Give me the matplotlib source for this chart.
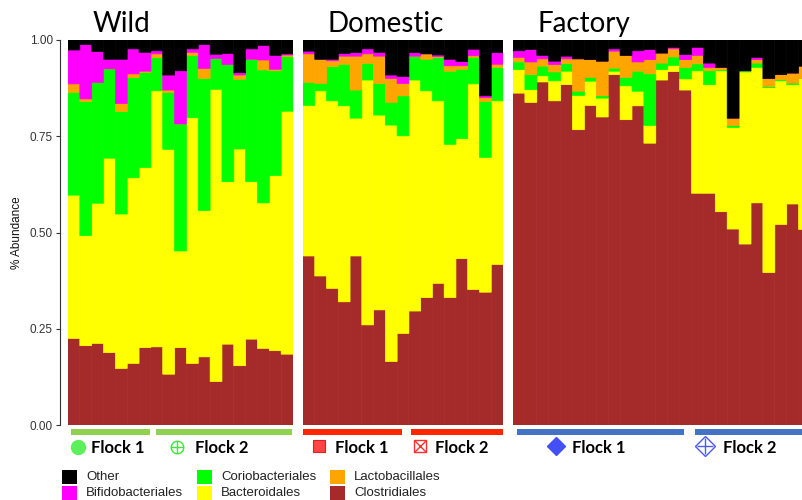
import matplotlib
matplotlib.use("Agg")
import matplotlib.pyplot as plt
from matplotlib.patches import Rectangle
import numpy as np

# ---------------- data (relative abundance per sample) ----------------
orders = ["Clostridiales", "Bacteroidales", "Coriobacteriales",
          "Lactobacillales", "Bifidobacteriales", "Other"]
order_colors = ["#A52A2A", "#FFFF00", "#00FF00", "#FFA500", "#FF00FF", "#000000"]

wild_clostridiales = [.225, .206, .212, .188, .147, .160, .201, .203, .132, .201,
                      .160, .177, .113, .210, .154, .223, .199, .193, .184]
wild_bacteroidales = [.372, .286, .364, .505, .401, .482, .468, .665, .584, .251,
                      .638, .380, .759, .422, .563, .409, .378, .455, .631]
wild_coriobacteriales = [.267, .348, .314, .232, .266, .260, .247, .086, .148, .330,
                         .162, .343, .080, .304, .181, .318, .345, .272, .142]
wild_lactobacillales = [.022, .007, 0, 0, .021, .010, .003, .010, .006, 0,
                        .008, .026, 0, 0, .011, 0, .026, .004, .004]
wild_bifidobacteriales = [.088, .141, .080, .025, .115, .065, .049, .008, .039, .138,
                          .009, .062, .011, .029, .006, .027, .038, .036, .003]
wild_other = [.026, .012, .030, .050, .050, .023, .032, .028, .091, .080,
              .023, .012, .037, .035, .085, .023, .014, .040, .036]

dom_clostridiales = [.439, .387, .355, .320, .439, .260, .299, .165, .238, .296,
                     .331, .368, .331, .432, .352, .345, .417]
dom_bacteroidales = [.391, .481, .487, .509, .358, .636, .506, .614, .513, .600,
                     .537, .474, .398, .312, .534, .350, .425]
dom_coriobacteriales = [.060, .019, .089, .108, .073, .043, .082, .059, .104, .061,
                        .082, .113, .190, .180, .069, .145, .087]
dom_lactobacillales = [.074, .063, .015, .021, .088, .025, .071, .062, .032, .001,
                       .014, .002, .014, .009, .004, .010, .008]
dom_bifidobacteriales = [.007, 0, .004, .007, .009, .013, .010, .009, .018, .009,
                         0, .004, .017, .011, .017, .005, .030]
dom_other = [.029, .050, .050, .035, .033, .023, .032, .091, .095, .033,
             .036, .039, .050, .056, .024, .145, .033]

fac_clostridiales = [.862, .838, .891, .842, .884, .767, .830, .800, .910, .793,
                     .829, .732, .896, .918, .870, .602, .602, .554, .509, .470,
                     .577, .396, .521, .574, .508]
fac_bacteroidales = [.061, .033, .016, .052, .035, .089, .063, .049, .009, .088,
                     .038, .046, .027, .016, .029, .318, .282, .366, .264, .447,
                     .352, .480, .373, .310, .392]
fac_coriobacteriales = [.020, .039, .025, .023, .020, .011, .010, .006, .008, .022,
                        .052, .134, .017, .022, .030, .018, .036, .003, .005, .003,
                        .011, .003, .003, .004, 0]
fac_lactobacillales = [.012, .033, .019, .019, .012, .084, .046, .090, .044, .057,
                       .024, .037, .026, .021, .020, .022, .009, .006, .019, 0,
                       .009, .021, .013, .026, .032]
fac_bifidobacteriales = [.017, .032, .009, .009, .007, 0, 0, 0, .006, 0,
                         .029, .026, 0, .004, .013, .021, .011, 0, 0, 0,
                         .006, 0, 0, 0, 0]
fac_other = [.028, .025, .040, .055, .042, .049, .051, .055, .023, .040,
             .028, .025, .034, .019, .038, .019, .060, .071, .203, .080,
             .045, .100, .090, .086, .068]

panel_titles = ["Wild", "Domestic", "Factory"]
y_ticks = [0.0, 0.25, 0.5, 0.75, 1.0]
y_tick_labels = ["0.00", "0.25", "0.50", "0.75", "1.00"]
flock_labels = ["Flock 1", "Flock 2"]

panels = [
    [wild_clostridiales, wild_bacteroidales, wild_coriobacteriales,
     wild_lactobacillales, wild_bifidobacteriales, wild_other],
    [dom_clostridiales, dom_bacteroidales, dom_coriobacteriales,
     dom_lactobacillales, dom_bifidobacteriales, dom_other],
    [fac_clostridiales, fac_bacteroidales, fac_coriobacteriales,
     fac_lactobacillales, fac_bifidobacteriales, fac_other],
]

# ---------------- layout (pixels) ----------------
W, H = 803, 500
fig = plt.figure(figsize=(W / 100, H / 100), dpi=100)

panel_px = [(68, 225), (303, 200), (513, 297.5)]  # left, width
top_px, bot_px = 40, 425

axes = []
for (left, width), data in zip(panel_px, panels):
    ax = fig.add_axes([left / W, 1 - bot_px / H, width / W, (bot_px - top_px) / H])
    n = len(data[0])
    x = np.arange(n)
    bottom = np.zeros(n)
    for vals, col in zip(data, order_colors):
        vals = np.array(vals, dtype=float)
        bars = ax.bar(x, vals, bottom=bottom, width=1.0, color=col,
                      linewidth=0.5, edgecolor=col)
        for b in bars:
            b.set_snap(False)
        bottom += vals
    ax.set_xlim(-0.5, n - 0.5)
    ax.set_ylim(0, 1)
    for s in ax.spines.values():
        s.set_visible(False)
    ax.set_xticks([])
    ax.set_yticks([])
    axes.append(ax)

ax0 = axes[0]
ax0.spines["left"].set_visible(True)
ax0.spines["left"].set_position(("outward", 6))
ax0.spines["left"].set_color("#333333")
ax0.spines["left"].set_linewidth(0.8)
ax0.set_yticks(y_ticks)
ax0.set_yticklabels(y_tick_labels, fontsize=8.5, color="#333333",
                    family="Liberation Sans")
ax0.tick_params(axis="y", length=3, width=0.8, color="#333333", pad=2)
ax0.set_ylabel("% Abundance", fontsize=8.5, family="Liberation Sans",
               color="#111111", labelpad=5)

# ---------------- overlay for titles, flock annotations and legend ----------------
ov = fig.add_axes([0, 0, 1, 1], zorder=10)
ov.set_xlim(0, W)
ov.set_ylim(H, 0)
ov.axis("off")
ov.patch.set_alpha(0)

title_x = [93, 328, 538]
for t, tx in zip(panel_titles, title_x):
    ov.text(tx, 32, t, fontsize=20, family="Lato", va="baseline", ha="left",
            color="black")

# flock bars
flock_bars = [
    (71, 150, "#92D050"), (156, 292, "#92D050"),
    (303, 402, "#FF2600"), (411, 503, "#FF2600"),
    (517, 684, "#4472C4"), (695, 810, "#4472C4"),
]
for x0, x1, c in flock_bars:
    ov.add_patch(Rectangle((x0, 429), x1 - x0, 6, color=c, lw=0, clip_on=False))

my = 447
# Wild markers
ov.plot([78], [my], marker="o", ms=10, mfc="#5CF05C", mec="#5CF05C", clip_on=False)
ov.plot([177], [my], marker="o", ms=9, mfc="none", mec="#3CE63C", mew=1.0, clip_on=False)
ov.plot([177], [my], marker="+", ms=9, mec="#3CE63C", mew=1.0, clip_on=False)
# Domestic markers
ov.plot([319], [my - 1], marker="s", ms=8.5, mfc="#FF4545", mec="#E02020", mew=0.8, clip_on=False)
ov.plot([420], [my - 1], marker="s", ms=9, mfc="none", mec="#FF3030", mew=1.0, clip_on=False)
ov.plot([420], [my - 1], marker="x", ms=8, mec="#FF3030", mew=1.0, clip_on=False)
# Factory markers
ov.plot([556], [my - 1], marker="D", ms=9, mfc="#4250F5", mec="#4250F5", clip_on=False)
ov.plot([705], [my - 1], marker="D", ms=10, mfc="none", mec="#4F5AF5", mew=1.0, clip_on=False)
ov.plot([705], [my - 1], marker="+", ms=12, mec="#4F5AF5", mew=1.0, clip_on=False)

flock_text_x = [91, 195, 335, 435, 572, 723]
for i, tx in enumerate(flock_text_x):
    ov.text(tx, my + 1, flock_labels[i % 2], fontsize=12, family="Lato",
            weight="bold", va="center", ha="left", color="black")

# legend
leg_items = [
    ("Other", "#000000", 62, 470), ("Bifidobacteriales", "#FF00FF", 62, 486),
    ("Coriobacteriales", "#00FF00", 197, 470), ("Bacteroidales", "#FFFF00", 197, 486),
    ("Lactobacillales", "#FFA500", 330, 470), ("Clostridiales", "#A52A2A", 330, 486),
]
for label, c, lx, ly in leg_items:
    ov.add_patch(Rectangle((lx, ly), 15, 14, color=c, lw=0, clip_on=False))
    ov.text(lx + 24, ly + 7.5, label, fontsize=9.5, family="Liberation Sans",
            va="center", ha="left", color="#222222")

fig.savefig("out.png", dpi=100)
